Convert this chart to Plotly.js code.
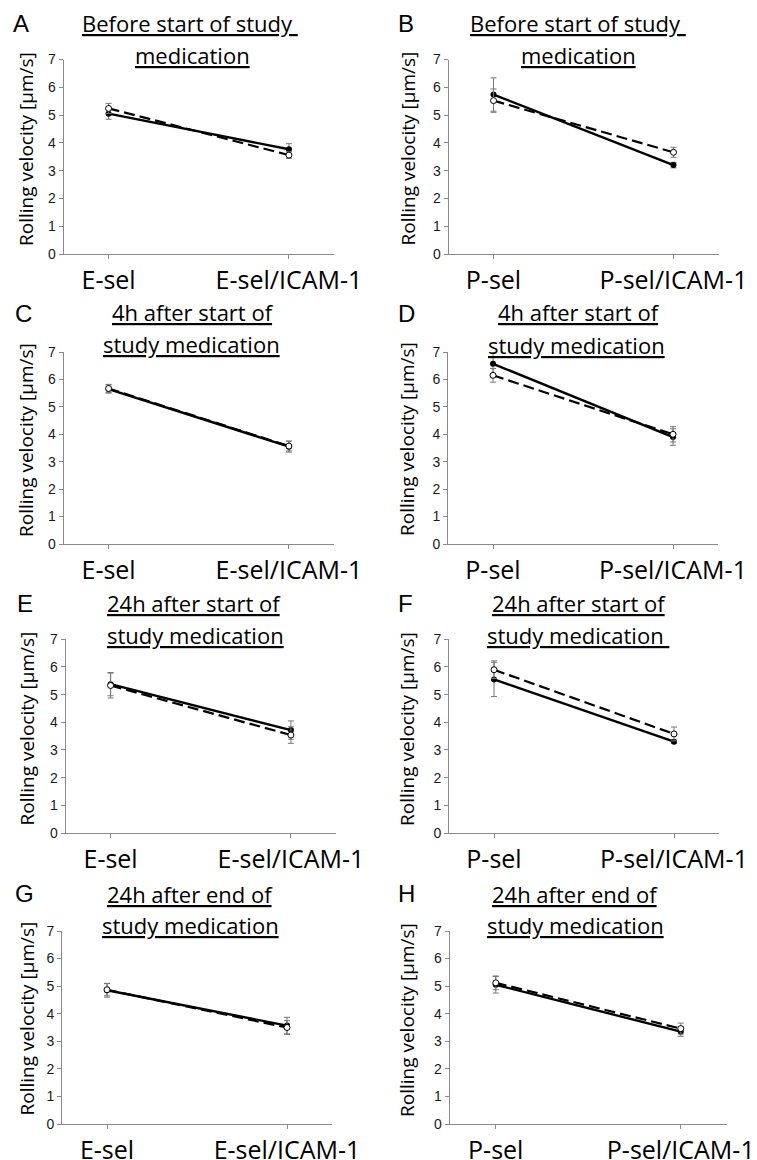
<!DOCTYPE html>
<html><head><meta charset="utf-8">
<script src="https://cdn.plot.ly/plotly-3.0.1.min.js"></script>
<style>html,body{margin:0;padding:0;background:#fff}#chart{width:757px;height:1160px}</style>
</head><body><div id="chart"></div>
<script>
// ---------- data ----------
const panelLetters = ['A','B','C','D','E','F','G','H'];
const catsE = ['E-sel','E-sel/ICAM-1'];
const catsP = ['P-sel','P-sel/ICAM-1'];
const titleLine1 = ['Before start of study\u00A0','Before start of study\u00A0','4h after start of','4h after start of','24h after start of','24h after start of','24h after end of','24h after end of'];
const titleLine2 = ['medication','medication','study medication','study medication','study medication','study medication\u00A0','study medication','study medication'];
const yTitle = 'Rolling velocity [\u00B5m/s]';
const yTicks = [0,1,2,3,4,5,6,7];
// filled circles, solid line
const solidSel      = [5.05, 5.74, 5.65, 6.57, 5.38, 5.55, 4.85, 5.05];
const solidSelErr   = [0.20, 0.60, 0.15, 0.47, 0.42, 0.62, 0.25, 0.30];
const solidIcam     = [3.77, 3.20, 3.55, 3.90, 3.72, 3.30, 3.57, 3.35];
const solidIcamErr  = [0.20, 0.10, 0.20, 0.30, 0.33, 0.05, 0.30, 0.17];
// open circles, dashed line
const dashedSel     = [5.24, 5.52, 5.67, 6.15, 5.33, 5.90, 4.87, 5.12];
const dashedSelErr  = [0.18, 0.42, 0.15, 0.25, 0.45, 0.32, 0.22, 0.25];
const dashedIcam    = [3.56, 3.66, 3.57, 4.00, 3.54, 3.58, 3.50, 3.46];
const dashedIcamErr = [0.12, 0.18, 0.18, 0.28, 0.30, 0.25, 0.25, 0.20];

// ---------- geometry (pixels) ----------
const W = 757, H = 1160;
const axL = [63.5, 448.5, 63.5, 448, 65.5, 449, 62, 449.5];
const axR = [334, 718.5, 334, 718, 336, 719, 332, 727];
const axT = [59.5, 59.5, 352, 352, 639.3, 639.3, 931, 931];
const axB = [254, 254, 544, 544, 833, 833, 1124, 1124];
const t1X = [190.5, 577.5, 192.5, 578.5, 193.5, 579, 190, 575];
const t2X = [193, 578.5, 191.7, 576.8, 195, 578, 190.5, 575];
const t1Base = [32, 32, 321, 321, 611, 611, 902, 902];
const t2Base = [63, 63, 352, 353, 643, 643, 933, 933];
const letX = [11.5, 396.5, 14, 396.5, 16, 396.5, 14, 396.5];
const letBase = [32, 32, 322, 322, 612, 612, 902, 902];
const ytX = [26, 407, 26, 407, 26, 407, 26, 407];
const ytY = [149, 148.5, 440, 439, 728.5, 729, 1018.5, 1020];

const px = v => v / W;
const py = v => 1 - v / H;

const traces = [];
const layout = {
  width: W, height: H,
  margin: {l:0, r:0, t:0, b:0},
  paper_bgcolor: '#fff', plot_bgcolor: '#fff',
  showlegend: false,
  annotations: []
};
const axisCol = '#8a8a8a';

for (let i = 0; i < 8; i++) {
  const n = i === 0 ? '' : String(i + 1);
  const cats = (i % 2 === 0) ? catsE : catsP;
  const xa = 'x' + n, ya = 'y' + n;
  traces.push({
    x: cats, y: [solidSel[i], solidIcam[i]], xaxis: xa, yaxis: ya,
    type: 'scatter', mode: 'lines+markers', hoverinfo: 'skip',
    line: {color: '#000', width: 2.4},
    marker: {color: '#000', size: 6, line: {color: '#000', width: 0}},
    error_y: {type: 'data', array: [solidSelErr[i], solidIcamErr[i]], color: '#777', thickness: 1, width: 3}
  });
  traces.push({
    x: cats, y: [dashedSel[i], dashedIcam[i]], xaxis: xa, yaxis: ya,
    type: 'scatter', mode: 'lines+markers', hoverinfo: 'skip',
    line: {color: '#000', width: 2.2, dash: '11px,5px'},
    marker: {color: '#fff', size: 6, line: {color: '#000', width: 1}},
    error_y: {type: 'data', array: [dashedSelErr[i], dashedIcamErr[i]], color: '#777', thickness: 1, width: 3}
  });
  layout['xaxis' + n] = {
    domain: [px(axL[i]), px(axR[i])], anchor: ya,
    type: 'category', range: [-0.25, 1.25],
    showline: true, linecolor: axisCol, linewidth: 1,
    ticks: 'outside', ticklen: 4, tickcolor: axisCol, tickwidth: 1,
    tickfont: {family: 'Open Sans', size: 25, color: '#000'},
    ticklabelstandoff: 0,
    showgrid: false, zeroline: false, fixedrange: true
  };
  layout['yaxis' + n] = {
    domain: [py(axB[i]), py(axT[i])], anchor: xa,
    range: [0, 7], tickmode: 'array', tickvals: yTicks,
    showline: true, linecolor: axisCol, linewidth: 1,
    ticks: 'outside', ticklen: 4, tickcolor: axisCol, tickwidth: 1,
    tickfont: {family: 'Liberation Sans, Arial', size: 14, color: '#1a1a1a'},
    showgrid: false, zeroline: false, fixedrange: true
  };
  const tf = {family: 'Open Sans', size: 22, color: '#000'};
  layout.annotations.push({
    xref: 'paper', yref: 'paper', x: px(t1X[i]), y: py(t1Base[i] - 8.5),
    xanchor: 'center', yanchor: 'middle', showarrow: false, borderpad: 0,
    text: '<u>' + titleLine1[i] + '</u>', font: tf
  });
  layout.annotations.push({
    xref: 'paper', yref: 'paper', x: px(t2X[i]), y: py(t2Base[i] - 8.5),
    xanchor: 'center', yanchor: 'middle', showarrow: false, borderpad: 0,
    text: '<u>' + titleLine2[i] + '</u>', font: tf
  });
  layout.annotations.push({
    xref: 'paper', yref: 'paper', x: px(letX[i]), y: py(letBase[i] - 8.3),
    xanchor: 'left', yanchor: 'middle', showarrow: false, borderpad: 0,
    text: panelLetters[i], font: {family: 'Liberation Sans, Arial', size: 24, color: '#000'}
  });
  layout.annotations.push({
    xref: 'paper', yref: 'paper', x: px(ytX[i]), y: py(ytY[i]),
    xanchor: 'center', yanchor: 'middle', showarrow: false, borderpad: 0,
    textangle: -90,
    text: yTitle, font: {family: 'Open Sans', size: 19, color: '#000'}
  });
}

Plotly.newPlot('chart', traces, layout, {staticPlot: true, displayModeBar: false});
</script>
</body></html>
